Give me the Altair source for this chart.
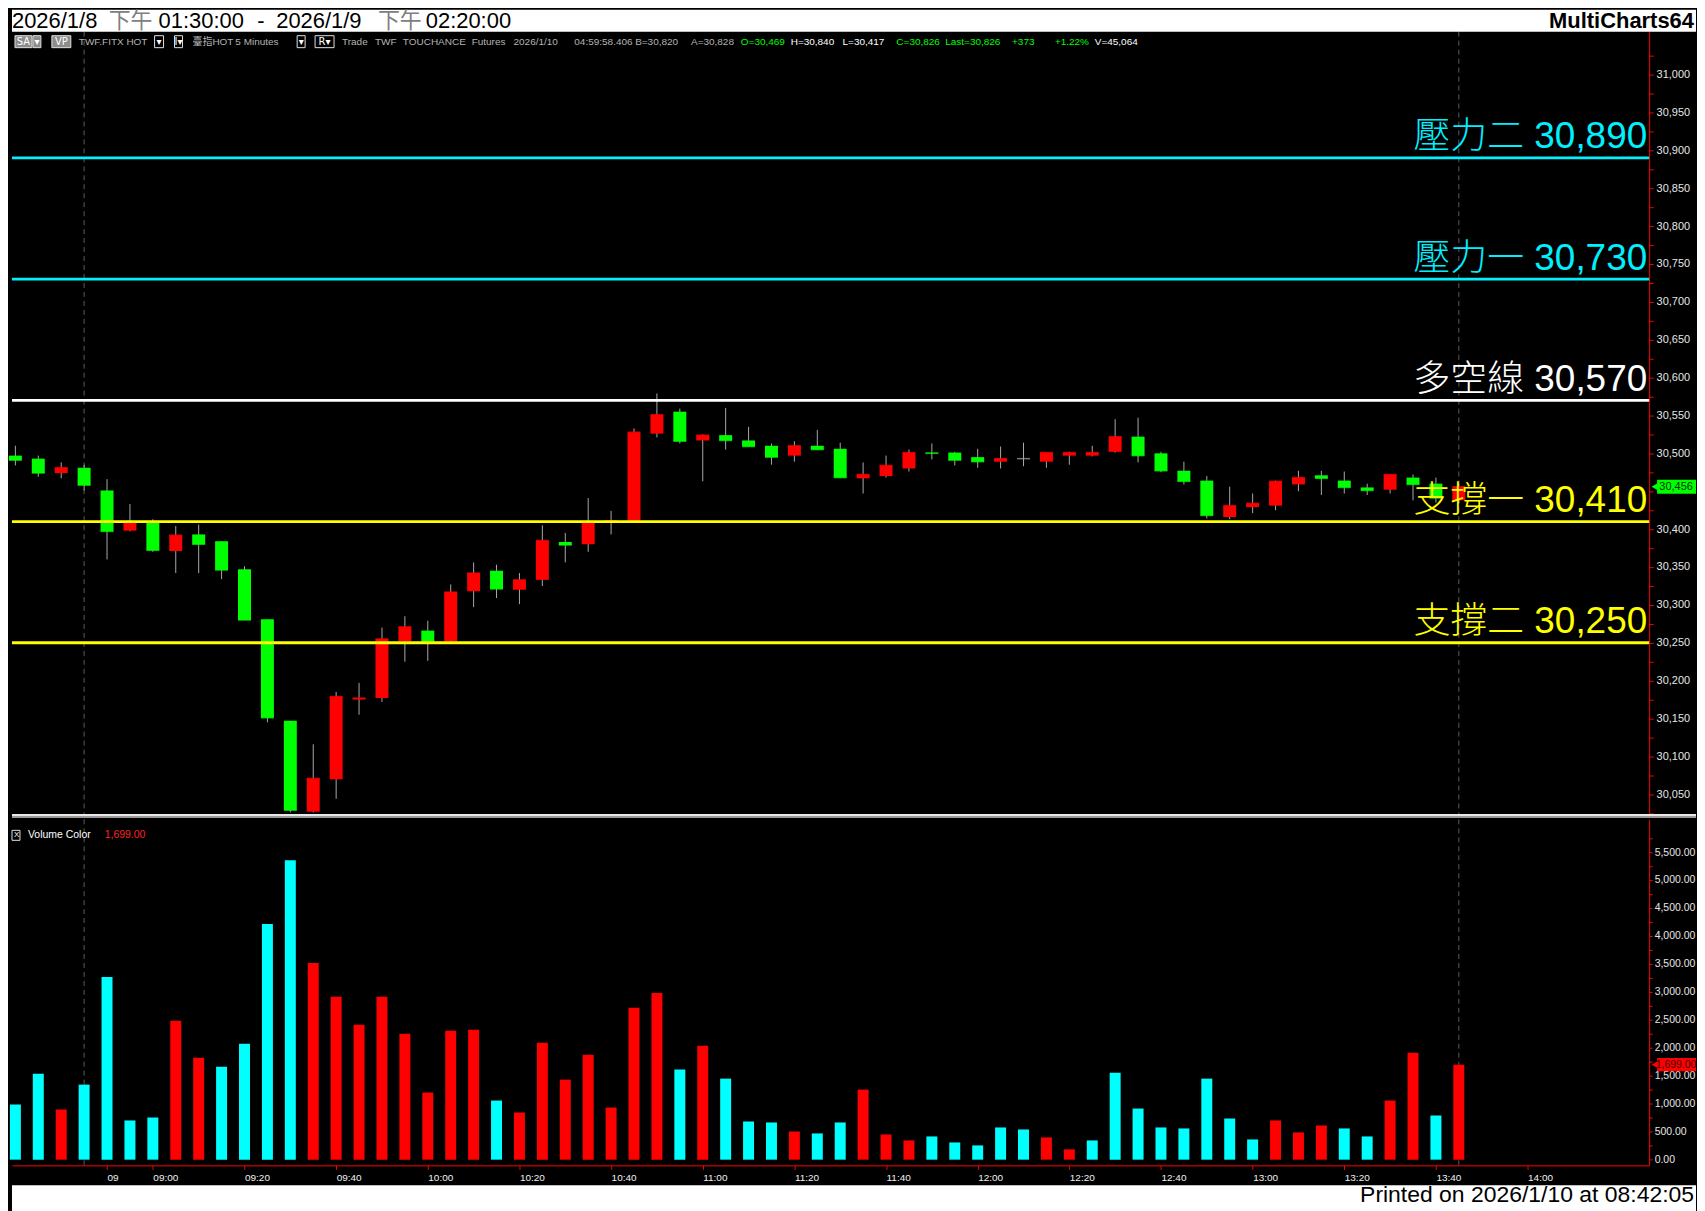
import json
import altair as alt
import pandas as pd

# ---------------- data ----------------
bar_index = list(range(64))
opens = [30497, 30493, 30474, 30481, 30451, 30398, 30409, 30371, 30393, 30384,
         30347, 30281, 30147, 30027, 30070, 30175, 30177, 30252, 30266, 30252,
         30318, 30345, 30320, 30333, 30383, 30380, 30409, 30411, 30526, 30555,
         30517, 30524, 30517, 30510, 30497, 30510, 30506, 30467, 30470, 30480,
         30501, 30501, 30495, 30489, 30493, 30489, 30497, 30497, 30502, 30522,
         30500, 30477, 30464, 30416, 30429, 30431, 30459, 30471, 30464, 30455,
         30452, 30468, 30460, 30438]
highs = [30510, 30497, 30488, 30485, 30466, 30433, 30413, 30404, 30406, 30384,
         30351, 30281, 30147, 30116, 30185, 30197, 30270, 30285, 30279, 30327,
         30356, 30353, 30342, 30405, 30395, 30441, 30424, 30533, 30579, 30559,
         30525, 30560, 30535, 30513, 30516, 30531, 30514, 30488, 30497, 30505,
         30513, 30502, 30506, 30509, 30514, 30501, 30502, 30510, 30545, 30547,
         30502, 30489, 30470, 30456, 30447, 30464, 30477, 30477, 30476, 30460,
         30472, 30472, 30468, 30460]
lows = [30484, 30469, 30467, 30451, 30360, 30397, 30370, 30342, 30342, 30334,
        30280, 30145, 30026, 30026, 30044, 30155, 30172, 30225, 30226, 30250,
        30297, 30309, 30301, 30325, 30356, 30370, 30393, 30410, 30521, 30513,
        30463, 30505, 30509, 30485, 30489, 30504, 30468, 30447, 30468, 30476,
        30492, 30484, 30481, 30480, 30483, 30481, 30485, 30496, 30501, 30488,
        30475, 30459, 30414, 30413, 30421, 30425, 30450, 30445, 30447, 30445,
        30447, 30438, 30435, 30434]
closes = [30491, 30474, 30481, 30458, 30397, 30408, 30372, 30392, 30380, 30346,
          30280, 30151, 30029, 30071, 30179, 30177, 30255, 30271, 30252, 30317,
          30342, 30321, 30333, 30385, 30379, 30408, 30411, 30528, 30551, 30516,
          30524, 30517, 30509, 30495, 30510, 30505, 30468, 30472, 30484, 30501,
          30500, 30491, 30489, 30493, 30493, 30501, 30501, 30501, 30522, 30497,
          30477, 30463, 30418, 30431, 30434, 30463, 30468, 30467, 30455, 30451,
          30472, 30459, 30441, 30456]
volumes = [986, 1538, 897, 1342, 3267, 701, 754, 2483, 1824, 1663,
           2073, 4212, 5353, 3517, 2911, 2412, 2911, 2251, 1200, 2305,
           2323, 1057, 843, 2091, 1431, 1877, 932, 2715, 2982, 1610,
           2037, 1449, 683, 665, 504, 469, 665, 1253, 451, 344,
           415, 308, 255, 576, 540, 398, 184, 344, 1556, 914,
           576, 558, 1449, 736, 362, 701, 487, 611, 558, 415,
           1057, 1913, 790, 1699]
vol_side = ["C", "C", "R", "C", "C", "C", "C", "R", "R", "C",
            "C", "C", "C", "R", "R", "R", "R", "R", "R", "R",
            "R", "C", "R", "R", "R", "R", "R", "R", "R", "C",
            "R", "C", "C", "C", "R", "C", "C", "R", "R", "R",
            "C", "C", "C", "C", "C", "R", "R", "C", "C", "C",
            "C", "C", "C", "C", "C", "R", "R", "R", "C", "C",
            "R", "R", "C", "R"]

level_names = ["壓力二", "壓力一", "多空線", "支撐一", "支撐二"]
level_values = [30890, 30730, 30570, 30410, 30250]
level_colors = ["#00F0FF", "#00F0FF", "#FFFFFF", "#FFFF00", "#FFFF00"]

session_break_bars = [3, 63]
time_tick_bars = [4, 6, 10, 14, 18, 22, 26, 30, 34, 38, 42, 46, 50, 54, 58, 62, 66]
time_tick_labels = ["09", "09:00", "09:20", "09:40", "10:00", "10:20", "10:40", "11:00",
                    "11:20", "11:40", "12:00", "12:20", "12:40", "13:00", "13:20", "13:40", "14:00"]
price_tick_values = list(range(30025, 31026, 25))
volume_tick_values = list(range(0, 5751, 250))

last_price = 30456
last_volume = 1699
covered_price_label = 30450   # hidden under the last-price marker

title_tokens = ["2026/1/8", "下午", "01:30:00", "-", "2026/1/9", "下午", "02:20:00"]
header_tokens = ["TWF.FITX HOT", "臺指HOT", "5 Minutes", "Trade", "TWF", "TOUCHANCE", "Futures",
                 "2026/1/10", "04:59:58.406", "B=30,820", "A=30,828", "O=30,469", "H=30,840",
                 "L=30,417", "C=30,826", "Last=30,826", "+373", "+1.22%", "V=45,064"]
button_labels = ["SA", "▾", "VP", "▾", "I▾", "▾", "R▾"]

# ---------------- layout (pixel positions, styles) ----------------
PW, PH, VH, FULLW = 1642, 788, 347, 1689
title_x = [0, 97, 147, 246, 265, 367, 415]
title_col = ["#000000", "#808080", "#000000", "#000000", "#000000", "#808080", "#000000"]
header_x = [67, 181, 224, 331, 364, 392, 461, 503, 564, 625, 681, 731, 781, 833, 887, 936, 1003, 1046, 1086]
GRAY, GRN, WHT = "#B4B4B4", "#00FF00", "#FFFFFF"
header_col = [GRAY] * 11 + [GRN, WHT, WHT, GRN, GRN, GRN, GRN, WHT]
button_x1 = [3, 21, 40, 143, 163, 286, 304]
button_x2 = [20, 29, 59, 152, 171, 294, 323]
button_fill = ["#8C8C8C", "#8C8C8C", "#8C8C8C", "#000000", "#000000", "#000000", "#000000"]

SANS = "Liberation Sans, 'Noto Sans CJK TC', sans-serif"

df = pd.DataFrame({"i": bar_index, "open": opens, "high": highs, "low": lows,
                   "close": closes, "vol": volumes, "side": vol_side})
df["bot"] = df[["open", "close"]].min(axis=1)
df["top"] = df[["open", "close"]].max(axis=1)
df["dir"] = ["up" if c > o else ("down" if c < o else "flat") for o, c in zip(opens, closes)]
df["vcol"] = ["#FF0000" if s == "R" else "#00FFFF" for s in vol_side]

levels = pd.DataFrame({"name": level_names, "value": level_values, "color": level_colors})
levels["label"] = [f"{n} {v:,}" for n, v in zip(level_names, level_values)]

xscale = alt.Scale(domain=[-0.148, 71.306], nice=False, zero=False, padding=0)
yscale = alt.Scale(domain=[30019.5, 31056.5], nice=False, zero=False, padding=0)
vscale = alt.Scale(domain=[-101.6, 6083.7], nice=False, zero=False, padding=0)

dircolor = alt.Color("dir:N", scale=alt.Scale(domain=["up", "down", "flat"],
                                              range=["#FF0000", "#00FF00", "#A8A8A8"]), legend=None)

yaxis = alt.Axis(orient="right", values=price_tick_values, title=None, grid=False,
                 labelExpr=f"(datum.value % 50 == 0 && datum.value != {covered_price_label}) ? format(datum.value, ',') : ''",
                 domainColor="#FF0000", tickColor="#FF0000", tickSize=4, labelPadding=3,
                 labelColor="#E6E6E6", labelFont="Liberation Sans", labelFontSize=11,
                 labelOverlap=False, labelFlush=False)
vaxis = alt.Axis(orient="right", values=volume_tick_values, title=None, grid=False,
                 labelExpr="datum.value % 500 == 0 ? format(datum.value, ',.2f') : ''",
                 domainColor="#FF0000", tickColor="#FF0000", tickSize=3, labelPadding=2,
                 labelColor="#E6E6E6", labelFont="Liberation Sans", labelFontSize=10.5,
                 labelOverlap=False, labelFlush=False)
xaxis = alt.Axis(values=time_tick_bars, title=None, grid=False,
                 labelExpr=f"{json.dumps(time_tick_labels)}[indexof({json.dumps(time_tick_bars)}, datum.value)]",
                 domainColor="#FF0000", tickColor="#FF0000", tickSize=4, labelPadding=3,
                 labelColor="#F0F0F0", labelFont="'Liberation Sans Narrow', 'Liberation Sans'",
                 labelFontSize=10, labelAlign="left", labelFlush=False, labelOverlap=False)

one = pd.DataFrame({"k": [0]})

# ---------------- price pane ----------------
PX = alt.X("i:Q", scale=xscale, axis=None)

breaks = alt.Chart(pd.DataFrame({"i": session_break_bars})).mark_rule(
    color="#5A5A5A", strokeDash=[5, 4], strokeWidth=1).encode(x=PX)

wicks = alt.Chart(df).mark_rule(color="#A8A8A8", strokeWidth=1).encode(
    x=PX, y=alt.Y("low:Q", scale=yscale, axis=yaxis), y2="high:Q")
bodies = alt.Chart(df).mark_bar(size=13).encode(
    x=PX, y=alt.Y("bot:Q", scale=yscale, axis=yaxis), y2="top:Q", color=dircolor)
closeline = alt.Chart(df).mark_tick(orient="horizontal", size=13, thickness=1.5).encode(
    x=PX, y=alt.Y("close:Q", scale=yscale, axis=yaxis), color=dircolor)

lvl_rules = alt.Chart(levels).mark_rule(strokeWidth=2.8).encode(
    y=alt.Y("value:Q", scale=yscale, axis=yaxis), color=alt.Color("color:N", scale=None))
lvl_text = alt.Chart(levels).mark_text(align="right", baseline="alphabetic", dy=-9.5,
                                       fontSize=37, font=SANS, fontWeight=300).encode(
    y=alt.Y("value:Q", scale=yscale, axis=yaxis), x=alt.value(1640),
    text="label:N", color=alt.Color("color:N", scale=None))

pm = pd.DataFrame({"v": [last_price], "v1": [last_price - 9.2], "v2": [last_price + 9.2],
                   "t": [f"{last_price:,}"]})
pm_rect = alt.Chart(pm).mark_rect(color="#00FF00").encode(
    y=alt.Y("v1:Q", scale=yscale, axis=yaxis), y2="v2:Q", x=alt.value(1650), x2=alt.value(FULLW))
pm_tri = alt.Chart(pm).mark_point(shape="triangle-left", filled=True, size=70, color="#00FF00", opacity=1).encode(
    y=alt.Y("v:Q", scale=yscale, axis=yaxis), x=alt.value(1648))
pm_txt = alt.Chart(pm).mark_text(color="#003000", fontSize=11, font="Liberation Sans").encode(
    y=alt.Y("v:Q", scale=yscale, axis=yaxis), x=alt.value(1669), text="t:N")

sep1 = alt.Chart(one).mark_rule(color="#E8E8E8", strokeWidth=2).encode(
    y=alt.value(785.5), x=alt.value(0), x2=alt.value(FULLW))
sep2 = alt.Chart(one).mark_rule(color="#9A9A9A", strokeWidth=2).encode(
    y=alt.value(787.5), x=alt.value(0), x2=alt.value(FULLW))

top_band = alt.Chart(one).mark_rect(color="#FFFFFF").encode(
    x=alt.value(0), x2=alt.value(FULLW), y=alt.value(-22), y2=alt.value(0))
tdf = pd.DataFrame({"t": title_tokens, "x": title_x, "c": title_col})
title_txt = alt.Chart(tdf).mark_text(align="left", baseline="alphabetic", fontSize=22, font=SANS).encode(
    x=alt.X("x:Q", scale=None), y=alt.value(-4), text="t:N", color=alt.Color("c:N", scale=None))
brand = alt.Chart(pd.DataFrame({"t": ["MultiCharts64"]})).mark_text(
    align="right", baseline="alphabetic", fontSize=22, fontWeight="bold", font="Liberation Sans",
    color="#000000").encode(x=alt.value(1687), y=alt.value(-4), text="t:N")

bdf = pd.DataFrame({"t": button_labels, "x1": button_x1, "x2": button_x2, "f": button_fill})
bdf["xc"] = (bdf["x1"] + bdf["x2"]) / 2
btn_rect = alt.Chart(bdf).mark_rect(stroke="#E0E0E0", strokeWidth=1).encode(
    x=alt.X("x1:Q", scale=None), x2="x2:Q", y=alt.value(4), y2=alt.value(16),
    fill=alt.Fill("f:N", scale=None))
btn_txt = alt.Chart(bdf).mark_text(baseline="middle", fontSize=10, font="DejaVu Sans, Liberation Sans",
                                   color="#FFFFFF").encode(
    x=alt.X("xc:Q", scale=None), y=alt.value(10.5), text="t:N")
hdf = pd.DataFrame({"t": header_tokens, "x": header_x, "c": header_col})
hdr_txt = alt.Chart(hdf).mark_text(align="left", baseline="middle", fontSize=10, font=SANS).encode(
    x=alt.X("x:Q", scale=None), y=alt.value(10.5), text="t:N", color=alt.Color("c:N", scale=None))

price = alt.layer(breaks, wicks, bodies, closeline, lvl_rules, lvl_text,
                  pm_rect, pm_tri, pm_txt, sep1, sep2, top_band, title_txt, brand,
                  btn_rect, btn_txt, hdr_txt).properties(width=PW, height=PH)

# ---------------- volume pane ----------------
VX = alt.X("i:Q", scale=xscale, axis=xaxis)
vbreaks = alt.Chart(pd.DataFrame({"i": session_break_bars})).mark_rule(
    color="#5A5A5A", strokeDash=[5, 4], strokeWidth=1).encode(x=VX)
vbars = alt.Chart(df).mark_bar(size=11).encode(
    x=VX, y=alt.Y("vol:Q", scale=vscale, axis=vaxis), y2=alt.datum(0),
    color=alt.Color("vcol:N", scale=None))

vm = pd.DataFrame({"v": [last_volume], "v1": [last_volume - 118], "v2": [last_volume + 118],
                   "t": [f"{last_volume:,.2f}"]})
vm_rect = alt.Chart(vm).mark_rect(color="#FF0000").encode(
    y=alt.Y("v1:Q", scale=vscale, axis=vaxis), y2="v2:Q", x=alt.value(1650), x2=alt.value(FULLW))
vm_tri = alt.Chart(vm).mark_point(shape="triangle-left", filled=True, size=70, color="#FF0000", opacity=1).encode(
    y=alt.Y("v:Q", scale=vscale, axis=vaxis), x=alt.value(1648))
vm_txt = alt.Chart(vm).mark_text(color="#3A0000", fontSize=10.5, font="Liberation Sans").encode(
    y=alt.Y("v:Q", scale=vscale, axis=vaxis), x=alt.value(1669), text="t:N")

leg_box = alt.Chart(one).mark_rect(fill="#000000", stroke="#E0E0E0", strokeWidth=1).encode(
    x=alt.value(0), x2=alt.value(8), y=alt.value(11), y2=alt.value(21))
leg_df = pd.DataFrame({"t": ["X", "Volume Color", f"{last_volume:,.2f}"], "x": [2, 16, 93],
                       "c": ["#FFFFFF", "#FFFFFF", "#FF2020"], "s": [8, 10.5, 10.5]})
leg_txt = alt.Chart(leg_df).mark_text(align="left", baseline="middle", font="Liberation Sans").encode(
    x=alt.X("x:Q", scale=None), y=alt.value(16), text="t:N",
    color=alt.Color("c:N", scale=None), size=alt.Size("s:Q", scale=None))

bottom_band = alt.Chart(one).mark_rect(color="#FFFFFF").encode(
    x=alt.value(0), x2=alt.value(FULLW), y=alt.value(367), y2=alt.value(393))
printed = alt.Chart(pd.DataFrame({"t": ["Printed on 2026/1/10 at 08:42:05"]})).mark_text(
    align="right", baseline="alphabetic", fontSize=23, font="Liberation Sans", color="#000000").encode(
    x=alt.value(1687), y=alt.value(384), text="t:N")

volume = alt.layer(vbreaks, vbars, vm_rect, vm_tri, vm_txt, leg_box, leg_txt,
                   bottom_band, printed).properties(width=PW, height=VH)

chart = alt.vconcat(price, volume, spacing=0).properties(
    padding=0, background="#000000"
).configure_view(stroke=None, fill="#000000").configure_scale(continuousPadding=0)

chart.save("out.html", embed_options={"renderer": "svg", "actions": False})
